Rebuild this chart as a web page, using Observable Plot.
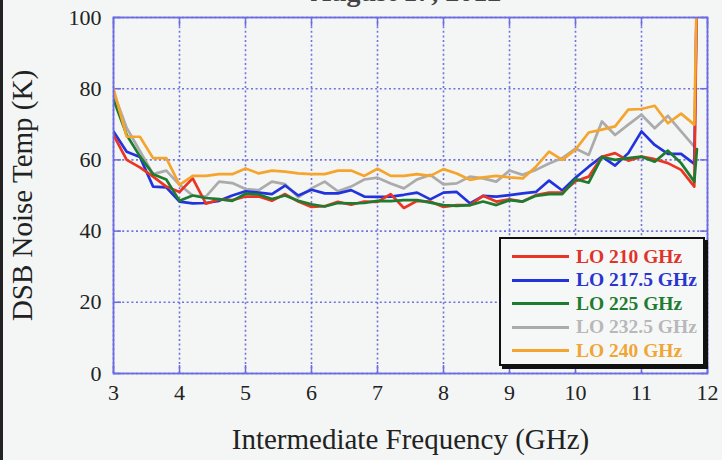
<!DOCTYPE html>
<html>
<head>
<meta charset="utf-8">
<script src="https://cdn.jsdelivr.net/npm/d3@7"></script>
<script src="https://cdn.jsdelivr.net/npm/@observablehq/plot@0.6"></script>
<style>
  html, body { margin: 0; padding: 0; background: #f3f6f5; }
  #wrap { position: relative; width: 722px; height: 460px; overflow: hidden; background: #f3f6f5; }
  #title { position: absolute; left: 0; width: 812px; top: -22px; text-align: center;
           font-family: "Liberation Serif", "Times New Roman", serif; font-size: 28px; line-height: 1;
           color: #444; font-weight: bold; }
  #edge { position: absolute; left: 0; top: 0; width: 3px; height: 460px; background: #222; }
  #legend { position: absolute; left: 499px; top: 237px; width: 206px; height: 129px;
            border: 2px solid #111; background: #f6f8f8; box-shadow: 3px 3px 0 #111;
            font-family: "Liberation Serif", "Times New Roman", serif; font-weight: bold; font-size: 19.5px;
            box-sizing: border-box; padding-top: 6px; }
  .row { display: flex; align-items: center; height: 23.5px; }
  .sw { width: 57px; height: 3px; margin-left: 11px; margin-right: 7px; }
</style>
</head>
<body>
<div id="wrap">
  <div id="title">August 17, 2012</div>
  <div id="chart"></div>
  <div id="legend"></div>
  <div id="edge"></div>
</div>
<script>
// IF frequency (GHz)
const freqGHz = [3.0,3.2,3.4,3.6,3.8,4.0,4.2,4.4,4.6,4.8,5.0,5.2,5.4,5.6,5.8,6.0,6.2,6.4,6.6,6.8,7.0,7.2,7.4,7.6,7.8,8.0,8.2,8.4,8.6,8.8,9.0,9.2,9.4,9.6,9.8,10.0,10.2,10.4,10.6,10.8,11.0,11.2,11.4,11.6,11.8,11.84];

// DSB noise temperature (K) per LO setting
const lo210 = [67,60,57.9,55.3,52.5,51,54.8,47.7,48.9,48.7,49.7,49.7,48.5,50.4,48.3,46.8,47,48.2,47.4,48.3,48.2,50.4,46.5,48.5,48.3,46.8,47.3,47.3,49.9,48.3,48.9,48.3,50.1,50.8,50.8,54,55.3,60.9,61.9,59.8,60.9,60.2,59.1,57.2,52.5,110];
const lo2175 = [68,62.3,60.8,52.5,52.3,48.3,47.8,47.9,48.5,50,51.2,50.8,50.4,52.8,50,51.6,50.6,50.6,51.5,49.7,49.6,49.7,50.2,50.8,48.9,50.8,51,47.8,49.9,49.7,50.1,50.6,51,54.2,51.4,55,58.1,60.9,58.4,61.9,68,64.2,61.7,61.7,58.9,110];
const lo225 = [77,67,61,56,54.5,48.5,50,49.3,49,48.5,50.5,50.3,49,50,48.5,47.5,46.9,47.9,47.8,47.9,48.5,48.4,48.7,48.7,48,47.3,47.1,47.3,48.3,47.3,48.7,48.3,49.9,50.4,50.4,54.6,53.6,60.8,60,60.5,60.9,59.5,62.6,59.1,53.9,63];
const lo2325 = [79,69,62.5,56,57,53,50,49.7,53.9,53.5,51.8,51.5,53.9,53.2,49.5,52,53.9,51.2,52.5,54.5,55,53.4,52,54.5,55.8,53.1,53.4,55.3,54.8,53.9,57,55.8,57.2,59,60.5,63.2,61.4,70.8,67,69.9,72.7,68.9,72.4,68,63.7,null];
const lo240 = [80,66.5,66.5,60.5,60.5,53,55.5,55.5,56,56,57.6,56.2,57,56.7,56.2,56,56,57,57,55.5,57.5,55.5,55.5,56,55.5,57.4,56.2,54.4,55.1,55.5,55.1,54.8,58.1,62.3,60,62.9,67.7,68.5,69.4,74.1,74.3,75.2,70.3,73,69.9,110];

const seriesNames = ["LO 210 GHz", "LO 217.5 GHz", "LO 225 GHz", "LO 232.5 GHz", "LO 240 GHz"];
const seriesValues = [lo210, lo2175, lo225, lo2325, lo240];
const seriesColors = ["#ec3424", "#2233dd", "#1e7c30", "#ababab", "#f5a52e"];
const legendTextColors = ["#e0332a", "#2a35d0", "#1e7c30", "#b8b8b8", "#f0a535"];
const drawOrder = [3, 1, 0, 2, 4];

const xTicks = [3,4,5,6,7,8,9,10,11,12];
const yTicks = [0,20,40,60,80,100];
const xLabel = "Intermediate Frequency (GHz)";
const yLabel = "DSB Noise Temp (K)";

const rows = seriesNames.flatMap((name, i) =>
  freqGHz.map((f, j) => ({series: name, f, t: seriesValues[i][j]})));

const font = '"Liberation Serif", "Times New Roman", serif';
const gridColor = "#5a5ad8";
const frameColor = "#6b6be4";

const plot = Plot.plot({
  width: 722,
  height: 460,
  marginLeft: 113,
  marginRight: 15,
  marginTop: 17,
  marginBottom: 87,
  style: {background: "transparent", fontFamily: font, fontSize: "22px", color: "#222"},
  x: {domain: [3, 12], ticks: xTicks},
  y: {domain: [0, 100], ticks: yTicks},
  marks: [
    Plot.gridX(xTicks, {stroke: gridColor, strokeDasharray: "2,2.6", strokeOpacity: 0.85, strokeWidth: 1.6}),
    Plot.gridY(yTicks, {stroke: gridColor, strokeDasharray: "2,2.6", strokeOpacity: 0.85, strokeWidth: 1.6}),
    Plot.axisX(xTicks, {anchor: "bottom", tickSize: 0, tickPadding: 11, fontSize: 22, label: xLabel, labelAnchor: "center", labelArrow: "none", labelOffset: 75}),
    Plot.axisY(yTicks, {anchor: "left", tickSize: 0, tickPadding: 12, fontSize: 22, label: yLabel, labelAnchor: "center", labelArrow: "none", labelOffset: 102}),
    Plot.axisX(xTicks, {anchor: "bottom", tickSize: -8, text: null, label: null, stroke: frameColor, strokeWidth: 1.5}),
    Plot.axisX(xTicks, {anchor: "top", tickSize: -8, text: null, label: null, stroke: frameColor, strokeWidth: 1.5}),
    Plot.axisY(yTicks, {anchor: "left", tickSize: -8, text: null, label: null, stroke: frameColor, strokeWidth: 1.5}),
    Plot.axisY(yTicks, {anchor: "right", tickSize: -8, text: null, label: null, stroke: frameColor, strokeWidth: 1.5}),
    ...drawOrder.map(i => Plot.line(rows.filter(d => d.series === seriesNames[i]), {
      x: "f", y: "t", stroke: seriesColors[i], strokeWidth: 2.7, clip: true, strokeLinejoin: "round"
    })),
    Plot.frame({stroke: frameColor, strokeWidth: 1.8})
  ]
});
plot.querySelectorAll("text").forEach(t => {
  t.style.fontFamily = font;
  const s = t.textContent.trim();
  if (s === xLabel || s === yLabel) { t.style.fontSize = "29px"; t.setAttribute("font-size", "29"); }
});
document.getElementById("chart").appendChild(plot);

const legend = document.getElementById("legend");
seriesNames.forEach((name, i) => {
  const row = document.createElement("div");
  row.className = "row";
  const sw = document.createElement("div");
  sw.className = "sw";
  sw.style.background = seriesColors[i];
  const lab = document.createElement("span");
  lab.textContent = name;
  lab.style.color = legendTextColors[i];
  row.appendChild(sw);
  row.appendChild(lab);
  legend.appendChild(row);
});
</script>
</body>
</html>
